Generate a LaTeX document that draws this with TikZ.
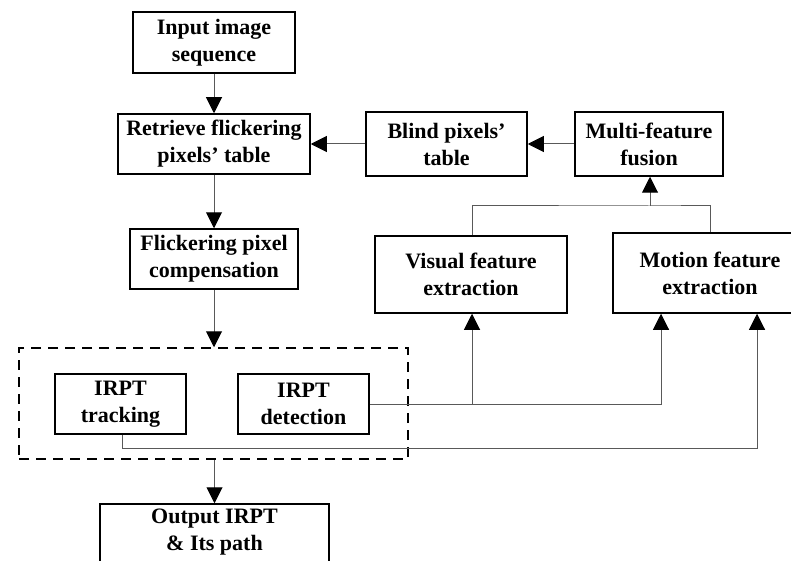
\documentclass[tikz,border=0pt]{standalone}
\usepackage{fontspec}
\setmainfont{Liberation Serif}
\usetikzlibrary{arrows.meta}
\begin{document}
\begin{tikzpicture}[x=1pt,y=-1pt,
  box/.style={draw=black, line width=1.5pt, align=center, inner sep=0pt,
    font=\bfseries\fontsize{22}{27}\selectfont},
  lbl/.style={align=center, inner sep=0pt, font=\bfseries\fontsize{22}{27}\selectfont},
  conn/.style={draw=black!65, line width=1pt},
  arr/.style={conn, -{Triangle[length=16pt,width=16pt,color=black]}},
  dashbox/.style={draw=black, line width=1.5pt, dash pattern=on 10pt off 7pt}]
\useasboundingbox (0,0) rectangle (791,561);
\clip (0,0) rectangle (791,561);
% nodes
\node[box, minimum width=162pt, minimum height=61pt] (input) at (214,42.5) {Input image\\sequence};
\node[box, minimum width=192pt, minimum height=60pt] (retr) at (214,144) {Retrieve flickering\\pixels' table};
\node[box, minimum width=168pt, minimum height=60pt] (comp) at (214,259) {Flickering pixel\\compensation};
\node[box, minimum width=161pt, minimum height=64pt] (blind) at (446.5,144) {Blind pixels'\\table};
\node[box, minimum width=148pt, minimum height=64pt] (fusion) at (649,144) {Multi-feature\\fusion};
\node[box, minimum width=192pt, minimum height=77pt] (visual) at (471,274.5) {Visual feature\\extraction};
\node[box, minimum width=194pt, minimum height=80pt] (motion) at (710,273) {Motion feature\\extraction};
\node[dashbox, minimum width=389pt, minimum height=111pt] (group) at (213.5,403.5) {};
\node[box, minimum width=131pt, minimum height=60pt] (track) at (120.5,404) {IRPT\\tracking};
\node[box, minimum width=131pt, minimum height=60pt] (detect) at (303.5,404) {IRPT\\detection};
\node[box, minimum width=229pt, minimum height=80pt] (outbox) at (214.5,544) {};
\node[lbl] (outtext) at (214.5,532) {Output IRPT\\\& Its path};
% coordinates
\coordinate (junc) at (650,206);
\coordinate (dj) at (472,404);
\coordinate (tl) at (122,448);
% connectors
\draw[arr] (input) -- (retr);
\draw[arr] (retr) -- (comp);
\draw[arr] (comp.south) -- (group.north -| comp.south);
\draw[arr] (group.south -| outbox.north) -- (outbox.north);
\draw[arr] (blind) -- (retr);
\draw[arr] (fusion) -- (blind);
\draw[conn] (visual.north -| dj) |- (junc) -| (motion.north);
\draw[arr] (junc) -- (junc |- fusion.south);
\draw[conn] (detect.east) -- (dj);
\draw[arr] (dj) -- (dj |- visual.south);
\draw[arr] (dj) -| ([xshift=-49pt]motion.south);
\draw[arr] (track.south -| tl) |- (tl -| 757,0) -- ([xshift=47pt]motion.south);
\end{tikzpicture}
\end{document}
